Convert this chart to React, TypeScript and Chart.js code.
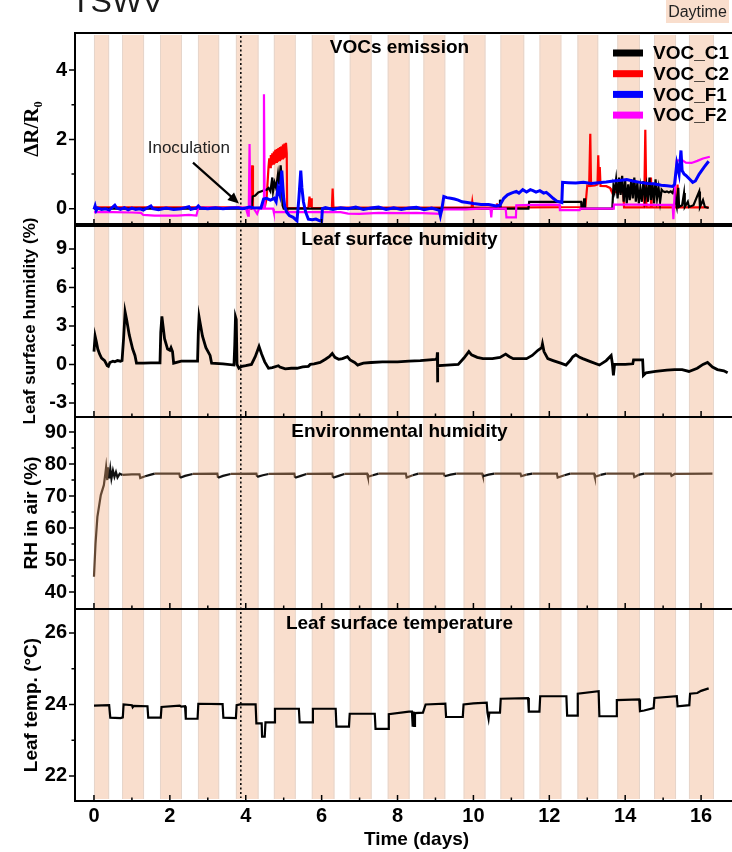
import React, { useEffect, useRef } from "react";
import { Chart, registerables } from "chart.js";

Chart.register(...registerables);

// ---------------- data ----------------
const xTicks = [0, 2, 4, 6, 8, 10, 12, 14, 16];
const xMinorTicks = [1, 3, 5, 7, 9, 11, 13, 15, 17];

const dayBands: [number, number][] = [
  [0, 0.4], [0.74, 1.32], [1.74, 2.32], [2.74, 3.3], [3.74, 4.34], [4.74, 5.32],
  [5.74, 6.34], [6.74, 7.32], [7.74, 8.32], [8.68, 9.26], [9.74, 10.32],
  [10.71, 11.34], [11.74, 12.32], [12.74, 13.29], [13.79, 14.39], [14.76, 15.34],
  [15.68, 16.34],
];
const inoculationDay = 3.87;

const vocTicks = [0, 2, 4];
const vocMinorTicks = [1, 3];
const lshTicks = [-3, 0, 3, 6, 9];
const lshMinorTicks = [-1.5, 1.5, 4.5, 7.5];
const rhTicks = [40, 50, 60, 70, 80, 90];
const rhMinorTicks = [45, 55, 65, 75, 85];
const tempTicks = [22, 24, 26];
const tempMinorTicks = [23, 25];

const vocC1: [number, number][] = [
  [0, 0], [3.9, 0], [4.15, 0], [4.18, 0.35], [4.25, 0.38], [4.33, 0.47], [4.45, 0.52],
  [4.55, 0.55], [4.6, 0.6], [4.65, 0.5], [4.7, 0.9], [4.72, 0.5], [4.76, 0.75], [4.8, 0.6],
  [4.85, 1.0], [4.88, 0.7], [4.92, 1.25], [4.95, 0.8], [4.97, 0.1], [5.0, 0], [10.68, 0],
  [10.7, 0.26], [10.72, 0], [11.45, 0], [11.47, 0.2], [12.84, 0.2], [12.85, 0], [12.9, 0],
  [12.92, 0.3], [12.94, 0], [13.66, 0], [13.69, 0.65], [13.72, 0.5], [13.76, 0.85],
  [13.8, 0.3], [13.84, 0.9], [13.88, 0.4], [13.92, 0.95], [13.96, 0.2], [14.0, 0.8],
  [14.04, 0.15], [14.08, 0.7], [14.12, 0.25], [14.16, 0.85], [14.2, 0.3], [14.24, 0.9],
  [14.28, 0.2], [14.32, 0.75], [14.36, 0.15], [14.4, 0.6], [14.44, 0.2], [14.48, 0.8],
  [14.52, 0.3], [14.56, 0.65], [14.6, 0.2], [14.64, 0.9], [14.68, 0.25], [14.72, 0.7],
  [14.76, 0.15], [14.8, 0.85], [14.84, 0.3], [14.88, 0.6], [14.92, 0.2], [14.96, 0.55],
  [15.0, 0.5], [15.05, 0.48], [15.1, 0.5], [15.15, 0.47], [15.2, 0.5], [15.25, 0.45],
  [15.3, 0.6], [15.33, 0.2], [15.36, 0.05], [15.4, 0.6], [15.42, 0.05], [15.5, 0.1],
  [15.55, 0.45], [15.57, 0.05], [15.65, 0.2], [15.68, 0.05], [15.8, 0.1], [15.95, 0.5],
  [15.97, 0.05], [16.05, 0.25], [16.1, 0.05], [16.2, 0.02],
];

const vocC2: [number, number][] = [
  [0, 0.04], [3.85, 0.04], [3.9, 0.03], [4.15, 0.02], [4.17, 1.25], [4.19, 0.05],
  [4.22, 0.02], [4.5, 0.03], [4.55, 0.3], [4.6, 1.2], [4.62, 1.45], [4.64, 1.2],
  [4.66, 1.55], [4.68, 1.25], [4.7, 1.6], [4.72, 1.3], [4.74, 1.65], [4.76, 1.3],
  [4.78, 1.7], [4.8, 1.35], [4.82, 1.72], [4.84, 1.35], [4.86, 1.75], [4.88, 1.4],
  [4.9, 1.78], [4.92, 1.4], [4.94, 1.8], [4.96, 1.45], [4.98, 1.85], [5.0, 1.45],
  [5.02, 1.88], [5.04, 1.5], [5.06, 1.9], [5.08, 1.6], [5.09, 0.05], [5.1, 0.02],
  [5.65, 0.02], [5.68, 0.35], [5.7, 0.05], [5.72, 0.3], [5.74, 0.02], [6.27, 0.02],
  [6.29, 0.58], [6.31, 0.03], [9.95, 0.03], [9.97, 0.2], [9.99, 0.03], [10.6, 0.03],
  [10.62, 0.15], [10.64, 0.03], [12.95, 0.05], [13.0, 0.67], [13.05, 0.66], [13.08, 2.16],
  [13.1, 0.66], [13.2, 0.67], [13.27, 0.7], [13.29, 1.54], [13.31, 0.75], [13.33, 1.2],
  [13.35, 0.66], [13.5, 0.65], [13.6, 0.6], [13.62, 0.55], [13.72, 0.48], [13.95, 0.48],
  [13.97, 0.04], [14.5, 0.04], [14.53, 2.28], [14.56, 0.04], [14.66, 0.04], [14.68, 0.9],
  [14.7, 0.04], [15.36, 0.04], [15.38, 0.7], [15.4, 0.04], [16.2, 0.04],
];

const vocF1: [number, number][] = [
  [0, -0.02], [0.03, 0.08], [0.06, -0.05], [0.1, 0.02], [0.2, -0.02], [0.3, 0.0],
  [0.4, -0.04], [0.5, 0.05], [0.55, 0.1], [0.6, 0.02], [0.7, -0.02], [0.8, 0.03],
  [0.9, -0.03], [1.0, 0.02], [1.1, -0.02], [1.2, 0.0], [1.3, -0.04], [1.4, 0.02],
  [1.5, 0.08], [1.55, 0.0], [1.7, -0.03], [1.9, 0.02], [2.1, -0.02], [2.3, 0.0],
  [2.5, 0.06], [2.55, -0.02], [2.7, 0.02], [2.75, 0.08], [2.8, 0.02], [3.0, 0.0],
  [3.2, 0.03], [3.4, 0.0], [3.6, 0.02], [3.8, 0.03], [3.9, 0.0], [4.0, 0.02], [4.1, 0.05],
  [4.2, 0.03], [4.4, 0.02], [4.47, 0.28], [4.55, 0.3], [4.65, 0.25], [4.75, 0.3],
  [4.8, 0.2], [4.85, 0.6], [4.9, 0.4], [4.95, 1.1], [4.98, 0.6], [5.0, 0.3], [5.03, 0.05],
  [5.08, -0.1], [5.15, -0.2], [5.25, -0.25], [5.35, -0.35], [5.4, 0.3], [5.45, 1.1],
  [5.48, 0.6], [5.52, 0.2], [5.58, -0.1], [5.65, -0.3], [5.75, -0.32], [5.85, -0.3],
  [5.95, -0.35], [6.0, -0.36], [6.02, 0.0], [6.1, 0.03], [6.3, -0.02], [6.5, 0.03],
  [6.7, 0.0], [6.9, 0.05], [7.1, -0.02], [7.3, 0.02], [7.5, 0.05], [7.7, -0.02],
  [7.9, 0.03], [8.1, -0.02], [8.3, 0.02], [8.5, 0.04], [8.7, -0.03], [8.9, 0.02],
  [9.1, -0.05], [9.13, -0.2], [9.17, 0.0], [9.22, 0.35], [9.3, 0.32], [9.4, 0.3],
  [9.5, 0.28], [9.6, 0.25], [9.7, 0.2], [9.84, 0.18], [10.0, 0.15], [10.2, 0.12],
  [10.4, 0.12], [10.5, 0.1], [10.6, 0.08], [10.7, 0.1], [10.8, 0.3], [10.9, 0.4],
  [11.0, 0.45], [11.13, 0.5], [11.2, 0.45], [11.3, 0.55], [11.4, 0.48], [11.5, 0.55],
  [11.57, 0.52], [11.65, 0.48], [11.75, 0.52], [11.85, 0.45], [11.92, 0.47], [12.0, 0.4],
  [12.1, 0.3], [12.2, 0.22], [12.33, 0.18], [12.35, 0.76], [12.5, 0.75], [12.7, 0.74],
  [12.9, 0.76], [13.1, 0.73], [13.3, 0.75], [13.5, 0.77], [13.69, 0.8], [13.9, 0.82],
  [14.04, 0.84], [14.2, 0.8], [14.39, 0.76], [14.6, 0.73], [14.75, 0.72], [14.95, 0.68],
  [15.1, 0.66], [15.25, 0.64], [15.3, 0.7], [15.36, 1.3], [15.42, 1.0], [15.47, 1.68],
  [15.5, 1.1], [15.55, 1.0], [15.6, 0.96], [15.7, 0.85], [15.78, 0.76], [15.85, 0.8],
  [15.95, 1.0], [16.08, 1.2], [16.2, 1.37],
];

const vocF2: [number, number][] = [
  [0, -0.1], [0.5, -0.1], [1.0, -0.11], [1.24, -0.12], [1.3, -0.18], [1.6, -0.2],
  [1.9, -0.2], [2.2, -0.2], [2.5, -0.18], [2.7, -0.2], [2.72, -0.1], [2.75, 0.02],
  [3.0, 0.03], [3.4, 0.02], [3.8, 0.03], [4.0, 0.03], [4.06, -0.2], [4.08, 0.0],
  [4.1, 1.87], [4.12, 0.0], [4.2, 0.02], [4.3, -0.15], [4.35, 0.0], [4.46, 0.0],
  [4.48, 3.3], [4.5, 0.0], [4.72, 0.0], [4.74, -0.1], [5.5, -0.1], [6.5, -0.1],
  [6.7, -0.14], [7.0, -0.15], [7.5, -0.12], [8.0, -0.13], [8.5, -0.12], [9.0, -0.14],
  [9.12, -0.15], [9.2, -0.02], [9.8, -0.02], [10.2, 0.0], [10.45, 0.0], [10.47, -0.25],
  [10.49, 0.0], [10.85, 0.0], [10.87, -0.25], [11.12, -0.25], [11.13, 0.1], [11.5, 0.11],
  [12.0, 0.12], [12.27, 0.11], [12.28, -0.04], [12.8, -0.04], [12.82, 0.0], [13.68, 0.0],
  [13.7, 0.12], [14.2, 0.12], [14.8, 0.11], [15.25, 0.12], [15.27, -0.3], [15.32, 0.8],
  [15.36, 1.39], [15.5, 1.4], [15.6, 1.33], [15.75, 1.32], [15.9, 1.38], [16.05, 1.45],
  [16.23, 1.5],
];

const leafHumidity: [number, number][] = [
  [0, 1.0], [0.03, 2.2], [0.06, 1.8], [0.1, 1.2], [0.15, 0.8], [0.2, 0.5], [0.28, 0.3],
  [0.35, -0.1], [0.38, -0.15], [0.42, 0.15], [0.5, 0.25], [0.55, 0.2], [0.62, 0.3],
  [0.7, 0.25], [0.74, 0.3], [0.78, 2.0], [0.82, 4.1], [0.86, 3.5], [0.93, 2.3],
  [1.02, 1.2], [1.08, 0.7], [1.12, 0.1], [1.3, 0.1], [1.5, 0.12], [1.74, 0.12],
  [1.76, 2.5], [1.79, 3.75], [1.82, 3.0], [1.86, 2.0], [1.94, 1.2], [2.0, 1.1],
  [2.03, 1.3], [2.07, 1.0], [2.1, 0.1], [2.3, 0.25], [2.5, 0.25], [2.73, 0.25],
  [2.75, 2.5], [2.77, 3.7], [2.8, 3.2], [2.86, 2.2], [2.95, 1.3], [3.06, 0.7], [3.1, 0.1],
  [3.4, 0.05], [3.69, -0.05], [3.71, 1.5], [3.73, 3.7], [3.75, 3.5], [3.77, 0.0],
  [3.82, -0.3], [3.9, -0.15], [4.0, -0.1], [4.15, 0.0], [4.25, 0.6], [4.35, 1.4],
  [4.42, 0.8], [4.5, 0.2], [4.6, -0.3], [4.7, -0.25], [4.86, -0.1], [4.9, -0.2],
  [5.04, -0.35], [5.2, -0.3], [5.35, -0.3], [5.5, -0.2], [5.65, -0.15], [5.7, 0.0],
  [5.8, 0.05], [5.96, 0.15], [6.1, 0.4], [6.2, 0.6], [6.28, 0.85], [6.35, 0.55],
  [6.45, 0.4], [6.55, 0.45], [6.68, 0.6], [6.75, 0.35], [6.87, 0.15], [6.95, -0.05],
  [7.0, 0.0], [7.1, 0.1], [7.3, 0.15], [7.6, 0.2], [8.0, 0.2], [8.3, 0.25], [8.6, 0.3],
  [9.0, 0.4], [9.04, 0.45], [9.05, 0.95], [9.055, -1.4], [9.06, -0.1], [9.3, -0.05],
  [9.6, 0.0], [9.75, 0.5], [9.88, 1.0], [9.95, 0.75], [10.1, 0.55], [10.25, 0.45],
  [10.5, 0.45], [10.7, 0.55], [10.85, 0.8], [10.95, 0.6], [11.05, 0.45], [11.4, 0.45],
  [11.55, 0.7], [11.7, 1.1], [11.8, 1.3], [11.82, 1.6], [11.86, 1.0], [11.96, 0.45],
  [12.1, 0.3], [12.3, 0.1], [12.44, -0.05], [12.55, 0.3], [12.62, 0.6], [12.7, 0.75],
  [12.8, 0.55], [12.88, 0.45], [13.1, 0.2], [13.32, -0.05], [13.5, 0.3], [13.63, 0.7],
  [13.66, 0.1], [13.69, -0.85], [13.72, 0.0], [14.0, 0.0], [14.2, 0.05], [14.22, 0.35],
  [14.46, 0.35], [14.48, -0.85], [14.55, -0.65], [14.8, -0.55], [15.1, -0.45],
  [15.3, -0.4], [15.5, -0.4], [15.68, -0.55], [15.9, -0.3], [16.05, 0.0], [16.17, 0.15],
  [16.3, -0.2], [16.43, -0.4], [16.6, -0.5], [16.7, -0.65],
];

const airHumidity: [number, number][] = [
  [0, 44.8], [0.04, 55], [0.09, 63.5], [0.18, 70.3], [0.26, 73.4], [0.3, 77], [0.32, 79],
  [0.35, 75], [0.37, 79], [0.4, 75.5], [0.43, 78.5], [0.46, 75.5], [0.5, 78], [0.54, 76],
  [0.58, 77.5], [0.62, 75.8], [0.68, 77], [0.75, 76.6], [1.0, 76.8], [1.2, 76.8],
  [1.22, 75.6], [1.35, 76.2], [1.5, 76.7], [1.6, 77.0], [2.25, 77], [2.27, 75.7],
  [2.4, 76.3], [2.6, 76.9], [3.25, 77], [3.27, 75.7], [3.4, 76.3], [3.6, 76.9],
  [4.28, 77], [4.3, 76], [4.45, 76.5], [4.6, 76.9], [5.28, 77], [5.3, 75.7], [5.45, 76.3],
  [5.6, 76.9], [6.28, 77], [6.3, 75.7], [6.45, 76.3], [6.6, 76.9], [7.2, 77], [7.22, 76],
  [7.35, 76.5], [7.5, 77], [8.22, 77], [8.24, 75.8], [8.4, 76.5], [8.55, 77], [9.22, 77],
  [9.24, 76.2], [9.4, 76.7], [9.55, 77], [10.23, 77], [10.25, 76.2], [10.4, 76.7],
  [10.55, 77], [11.24, 77], [11.26, 76.2], [11.4, 76.7], [11.55, 77], [12.2, 77],
  [12.22, 75.8], [12.4, 76.5], [12.55, 77], [13.18, 77], [13.2, 76.0], [13.35, 76.6],
  [13.5, 77], [14.22, 77], [14.24, 75.9], [14.35, 76.6], [14.5, 77], [15.2, 77],
  [15.22, 76.3], [15.3, 76.9], [16.3, 77],
];

const leafTemp: [number, number][] = [
  [0, 23.97], [0.4, 23.98], [0.43, 23.63], [0.7, 23.62], [0.76, 23.64], [0.78, 24.0],
  [1.0, 23.98], [1.02, 23.92], [1.05, 23.96], [1.41, 23.95], [1.43, 23.63], [1.76, 23.63],
  [1.78, 23.93], [2.26, 23.97], [2.3, 23.94], [2.4, 23.95], [2.42, 23.6], [2.73, 23.6],
  [2.75, 24.02], [3.39, 24.01], [3.41, 23.63], [3.74, 23.62], [3.76, 23.98], [3.85, 24.0],
  [4.26, 24.0], [4.28, 23.47], [4.42, 23.47], [4.43, 23.1], [4.5, 23.1], [4.52, 23.5],
  [4.75, 23.5], [4.77, 23.88], [5.4, 23.88], [5.42, 23.5], [5.75, 23.5], [5.77, 23.88],
  [6.37, 23.88], [6.39, 23.38], [6.72, 23.38], [6.74, 23.74], [7.4, 23.74], [7.42, 23.32],
  [7.75, 23.32], [7.77, 23.73], [8.3, 23.8], [8.38, 23.8], [8.4, 23.38], [8.42, 23.8],
  [8.44, 23.4], [8.46, 23.76], [8.67, 23.77], [8.74, 24.0], [9.26, 24.02], [9.28, 23.65],
  [9.72, 23.65], [9.74, 24.0], [10.0, 24.03], [10.35, 24.05], [10.37, 23.77], [10.4, 23.6],
  [10.42, 23.77], [10.7, 23.77], [10.72, 24.16], [11.44, 24.18], [11.46, 23.8],
  [11.74, 23.8], [11.76, 24.23], [12.45, 24.23], [12.47, 23.69], [12.73, 23.69],
  [12.75, 24.3], [13.3, 24.37], [13.32, 23.67], [13.76, 23.67], [13.78, 24.12],
  [14.37, 24.14], [14.39, 23.81], [14.5, 23.83], [14.75, 23.9], [14.77, 24.18],
  [15.36, 24.23], [15.38, 23.95], [15.69, 23.98], [15.71, 24.3], [15.9, 24.32],
  [16.0, 24.38], [16.2, 24.45],
];

// ---------------- styling ----------------
const SANS = "'Liberation Sans', Arial, Helvetica, sans-serif";
const SERIF = "'Liberation Serif', 'Times New Roman', 'DejaVu Serif', serif";
const BAND = "rgb(249,222,205)";
const BAND_EDGE = "rgba(215,205,200,0.55)";
const RH_DAY = "#634834";
const RH_NIGHT = "#111111";

const pts = (a: [number, number][]) => a.map(([x, y]) => ({ x, y }));
const inBand = (d: number) => dayBands.some(([s, e]) => d >= s && d <= e);

const panels = [
  { id: "yVoc", title: "VOCs emission", major: vocTicks, minor: vocMinorTicks },
  { id: "yLsh", title: "Leaf surface humidity", major: lshTicks, minor: lshMinorTicks },
  { id: "yRh", title: "Environmental humidity", major: rhTicks, minor: rhMinorTicks },
  { id: "yTemp", title: "Leaf surface temperature", major: tempTicks, minor: tempMinorTicks },
];

const legendItems = [
  { label: "VOC_C1", color: "#000000" },
  { label: "VOC_C2", color: "#ff0000" },
  { label: "VOC_F1", color: "#0000ff" },
  { label: "VOC_F2", color: "#ff00ff" },
];

const overlayPlugin = {
  id: "overlay",
  beforeDatasetsDraw(chart: any) {
    const { ctx, chartArea: a, scales } = chart;
    const x = scales.x;
    ctx.save();
    for (const [s, e] of dayBands) {
      const x0 = x.getPixelForValue(s);
      const x1 = x.getPixelForValue(e);
      ctx.fillStyle = BAND;
      ctx.fillRect(x0, a.top + 2, x1 - x0, a.bottom - a.top - 4);
      ctx.strokeStyle = BAND_EDGE;
      ctx.lineWidth = 1;
      ctx.beginPath();
      ctx.moveTo(x0 + 0.5, a.top + 2);
      ctx.lineTo(x0 + 0.5, a.bottom - 2);
      ctx.moveTo(x1 - 0.5, a.top + 2);
      ctx.lineTo(x1 - 0.5, a.bottom - 2);
      ctx.stroke();
    }
    // inoculation dotted line
    const xi = x.getPixelForValue(inoculationDay);
    ctx.strokeStyle = "#000";
    ctx.lineWidth = 1.5;
    ctx.setLineDash([2, 2.5]);
    ctx.beginPath();
    ctx.moveTo(xi, a.top + 3);
    ctx.lineTo(xi, a.bottom - 3);
    ctx.stroke();
    ctx.setLineDash([]);
    ctx.restore();
  },
  afterDatasetsDraw(chart: any) {
    const { ctx, chartArea: a, scales } = chart;
    const x = scales.x;
    ctx.save();
    ctx.strokeStyle = "#000";
    ctx.fillStyle = "#000";
    panels.forEach((p, i) => {
      const s = scales[p.id];
      // frame
      ctx.lineWidth = 2;
      ctx.strokeRect(a.left, s.top, a.right - a.left, s.bottom - s.top);
      if (i === 0) {
        ctx.lineWidth = 4;
        ctx.beginPath();
        ctx.moveTo(a.left, s.bottom);
        ctx.lineTo(a.right, s.bottom);
        ctx.stroke();
      }
      // y ticks (outward)
      ctx.lineWidth = 1.5;
      ctx.beginPath();
      for (const v of p.major) {
        const y = s.getPixelForValue(v);
        ctx.moveTo(a.left - 6, y);
        ctx.lineTo(a.left, y);
      }
      for (const v of p.minor) {
        const y = s.getPixelForValue(v);
        ctx.moveTo(a.left - 3.5, y);
        ctx.lineTo(a.left, y);
      }
      // x ticks (inward from panel bottom)
      for (const v of xTicks) {
        const xx = x.getPixelForValue(v);
        ctx.moveTo(xx, s.bottom);
        ctx.lineTo(xx, s.bottom - 6);
      }
      for (const v of xMinorTicks) {
        const xx = x.getPixelForValue(v);
        ctx.moveTo(xx, s.bottom);
        ctx.lineTo(xx, s.bottom - 3.5);
      }
      ctx.stroke();
      // panel title
      ctx.font = `bold 19px ${SANS}`;
      ctx.textAlign = "center";
      ctx.textBaseline = "middle";
      ctx.fillText(p.title, x.getPixelForValue(8.05), s.top + 15);
    });

    // legend in VOC panel
    const sv = scales.yVoc;
    legendItems.forEach((it, i) => {
      const y = sv.top + 20 + i * 20.7;
      ctx.fillStyle = it.color;
      ctx.fillRect(a.right - 145, y - 3.5, 30, 7);
      ctx.fillStyle = "#000";
      ctx.font = `bold 19px ${SANS}`;
      ctx.textAlign = "left";
      ctx.textBaseline = "middle";
      ctx.fillText(it.label, a.right - 105, y + 1);
    });

    // inoculation annotation
    const tx = x.getPixelForValue(2.5);
    const ty = sv.getPixelForValue(1.74);
    ctx.font = `17px ${SANS}`;
    ctx.fillStyle = "#222";
    ctx.textAlign = "center";
    ctx.textBaseline = "middle";
    ctx.fillText("Inoculation", tx, ty);
    const ax0 = x.getPixelForValue(2.61), ay0 = sv.getPixelForValue(1.33);
    const ax1 = x.getPixelForValue(3.82), ay1 = sv.getPixelForValue(0.15);
    const ang = Math.atan2(ay1 - ay0, ax1 - ax0);
    ctx.strokeStyle = "#000";
    ctx.lineWidth = 2.2;
    ctx.beginPath();
    ctx.moveTo(ax0, ay0);
    ctx.lineTo(ax1 - 8 * Math.cos(ang), ay1 - 8 * Math.sin(ang));
    ctx.stroke();
    ctx.fillStyle = "#000";
    ctx.beginPath();
    ctx.moveTo(ax1, ay1);
    ctx.lineTo(ax1 - 11 * Math.cos(ang) + 5 * Math.sin(ang), ay1 - 11 * Math.sin(ang) - 5 * Math.cos(ang));
    ctx.lineTo(ax1 - 11 * Math.cos(ang) - 5 * Math.sin(ang), ay1 - 11 * Math.sin(ang) + 5 * Math.cos(ang));
    ctx.closePath();
    ctx.fill();

    // figure title and daytime key
    ctx.fillStyle = "#1a1a1a";
    ctx.font = `32px ${SANS}`;
    ctx.textAlign = "left";
    ctx.textBaseline = "alphabetic";
    ctx.fillText("TSWV", 71, 12);
    ctx.fillStyle = BAND;
    ctx.fillRect(666, 0, 63, 23);
    ctx.fillStyle = "#222";
    ctx.font = `16px ${SANS}`;
    ctx.textAlign = "center";
    ctx.textBaseline = "middle";
    ctx.fillText("Daytime", 697.5, 12.5);
    ctx.restore();
  },
};

const tickFont = { family: SANS, size: 20, weight: "bold" as const };
const titleFont = { family: SANS, size: 19, weight: "bold" as const };

function yScale(opts: {
  weight: number; min: number; max: number; ticks: number[]; title: string; font?: any;
}) {
  return {
    type: "linear" as const,
    position: "left" as const,
    stack: "panels",
    stackWeight: 1,
    weight: opts.weight,
    min: opts.min,
    max: opts.max,
    afterBuildTicks: (s: any) => {
      s.ticks = opts.ticks.map((v) => ({ value: v }));
    },
    afterFit: (s: any) => {
      s.width = 75;
    },
    grid: { display: false, drawTicks: false },
    border: { display: false },
    ticks: { padding: 8, color: "#000", font: tickFont, autoSkip: false },
    title: {
      display: true,
      text: opts.title,
      color: "#000",
      font: opts.font || titleFont,
      padding: { top: 20, bottom: 0 },
    },
  };
}

export default function App() {
  const ref = useRef<HTMLCanvasElement>(null);
  useEffect(() => {
    if (!ref.current) return;
    const chart = new Chart(ref.current, {
      type: "line",
      data: {
        datasets: [
          { label: "VOC_F1", data: pts(vocF1), yAxisID: "yVoc", borderColor: "#0000ff", borderWidth: 3, order: 0 },
          { label: "VOC_F2", data: pts(vocF2), yAxisID: "yVoc", borderColor: "#ff00ff", borderWidth: 2.2, order: 1 },
          { label: "VOC_C1", data: pts(vocC1), yAxisID: "yVoc", borderColor: "#000000", borderWidth: 2.2, order: 2 },
          { label: "VOC_C2", data: pts(vocC2), yAxisID: "yVoc", borderColor: "#ff0000", borderWidth: 2.2, order: 3 },
          { label: "Leaf surface humidity", data: pts(leafHumidity), yAxisID: "yLsh", borderColor: "#000", borderWidth: 2.8 },
          {
            label: "RH in air",
            data: pts(airHumidity),
            yAxisID: "yRh",
            borderColor: RH_NIGHT,
            borderWidth: 2.2,
            segment: {
              borderColor: (c: any) => (inBand((c.p0.parsed.x + c.p1.parsed.x) / 2) ? RH_DAY : RH_NIGHT),
            },
          },
          { label: "Leaf temp.", data: pts(leafTemp), yAxisID: "yTemp", borderColor: "#000", borderWidth: 2.2 },
        ] as any,
      },
      options: {
        responsive: false,
        animation: false,
        devicePixelRatio: 1,
        events: [],
        layout: { padding: { left: 0, top: 33, right: 22, bottom: 0 }, autoPadding: false },
        elements: { point: { radius: 0 }, line: { tension: 0 } },
        plugins: { legend: { display: false }, tooltip: { enabled: false } },
        scales: {
          x: {
            type: "linear",
            position: "bottom",
            min: -0.5,
            max: 17.5,
            afterBuildTicks: (s: any) => {
              s.ticks = xTicks.map((v) => ({ value: v }));
            },
            afterFit: (s: any) => {
              s.height = 51;
            },
            grid: { display: false, drawTicks: false },
            border: { display: false },
            ticks: { padding: 3, color: "#000", font: tickFont, maxRotation: 0, autoSkip: false },
            title: { display: true, text: "Time (days)", color: "#000", font: titleFont, padding: { top: 0, bottom: 1 } },
          },
          yTemp: yScale({ weight: 1, min: 21.3, max: 26.67, ticks: tempTicks, title: "Leaf temp. (°C)" }),
          yRh: yScale({ weight: 2, min: 34.7, max: 94.7, ticks: rhTicks, title: "RH in air (%)" }),
          yLsh: yScale({
            weight: 3, min: -4.1, max: 10.87, ticks: lshTicks, title: "Leaf surface humidity (%)",
            font: { family: SANS, size: 17, weight: "bold" },
          }),
          yVoc: yScale({
            weight: 4, min: -0.47, max: 5.07, ticks: vocTicks, title: "ΔR/R₀",
            font: { family: SERIF, size: 21, weight: "bold" },
          }),
        } as any,
      },
      plugins: [overlayPlugin],
    });
    return () => chart.destroy();
  }, []);
  return (
    <div style={{ position: "absolute", left: 0, top: 0, width: 732, height: 852, overflow: "hidden", background: "#fff" }}>
      <canvas ref={ref} width={780} height={852} style={{ display: "block", width: 780, height: 852 }} />
    </div>
  );
}
